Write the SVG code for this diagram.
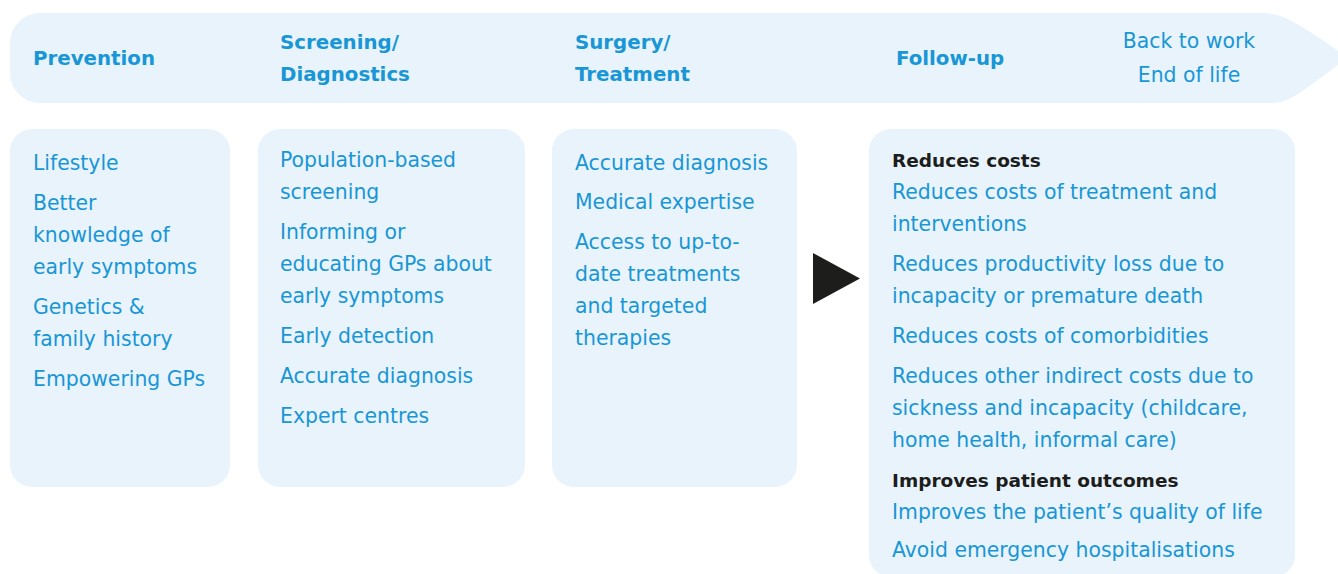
<svg xmlns="http://www.w3.org/2000/svg" width="1338" height="574" viewBox="0 0 1338 574">
<style>
.bg{fill:#e8f3fc}
.h{font-family:"DejaVu Sans",sans-serif;font-weight:bold;font-size:19.8px;fill:#1896d6}
.t{font-family:"DejaVu Sans",sans-serif;font-size:20.4px;fill:#1896d6}
.b{font-family:"DejaVu Sans",sans-serif;font-weight:bold;font-size:18.5px;fill:#1d1d1b}
.c{text-anchor:middle}
</style>
<rect width="1338" height="574" fill="#ffffff"/>
<g id="banner">
<path class="bg" d="M40,13 H1262 C1285,13 1305,28 1348,58 C1305,88 1292,103 1272,103 H40 A30,30 0 0 1 10,73 V43 A30,30 0 0 1 40,13 Z"/>
<text class="h" x="33" y="65">Prevention</text>
<text class="h" x="280" y="49">Screening/</text>
<text class="h" x="280" y="81">Diagnostics</text>
<text class="h" x="575" y="49">Surgery/</text>
<text class="h" x="575" y="81">Treatment</text>
<text class="h" x="896" y="65">Follow-up</text>
<text class="t c" x="1189" y="48">Back to work</text>
<text class="t c" x="1189" y="82">End of life</text>
</g>
<g id="prevention">
<rect class="bg" x="10" y="129" width="220" height="358" rx="22"/>
<text class="t" x="33" y="170">Lifestyle</text>
<text class="t" x="33" y="210">Better</text>
<text class="t" x="33" y="242">knowledge of</text>
<text class="t" x="33" y="274">early symptoms</text>
<text class="t" x="33" y="314">Genetics &amp;</text>
<text class="t" x="33" y="346">family history</text>
<text class="t" x="33" y="386">Empowering GPs</text>
</g>
<g id="screening">
<rect class="bg" x="258" y="129" width="267" height="358" rx="22"/>
<text class="t" x="280" y="167">Population-based</text>
<text class="t" x="280" y="199">screening</text>
<text class="t" x="280" y="239">Informing or</text>
<text class="t" x="280" y="271">educating GPs about</text>
<text class="t" x="280" y="303">early symptoms</text>
<text class="t" x="280" y="343">Early detection</text>
<text class="t" x="280" y="383">Accurate diagnosis</text>
<text class="t" x="280" y="423">Expert centres</text>
</g>
<g id="surgery">
<rect class="bg" x="552" y="129" width="245" height="358" rx="22"/>
<text class="t" x="575" y="170">Accurate diagnosis</text>
<text class="t" x="575" y="209">Medical expertise</text>
<text class="t" x="575" y="249">Access to up-to-</text>
<text class="t" x="575" y="281">date treatments</text>
<text class="t" x="575" y="313">and targeted</text>
<text class="t" x="575" y="345">therapies</text>
</g>
<g id="connectors">
<polygon points="813,253 860,278.5 813,304" fill="#1d1d1b"/>
</g>
<g id="followup">
<rect class="bg" x="869" y="129" width="426" height="448" rx="22"/>
<text class="b" x="892" y="167">Reduces costs</text>
<text class="t" x="892" y="199">Reduces costs of treatment and</text>
<text class="t" x="892" y="231">interventions</text>
<text class="t" x="892" y="271">Reduces productivity loss due to</text>
<text class="t" x="892" y="303">incapacity or premature death</text>
<text class="t" x="892" y="343">Reduces costs of comorbidities</text>
<text class="t" x="892" y="383">Reduces other indirect costs due to</text>
<text class="t" x="892" y="415">sickness and incapacity (childcare,</text>
<text class="t" x="892" y="447">home health, informal care)</text>
<text class="b" x="892" y="487">Improves patient outcomes</text>
<text class="t" x="892" y="519">Improves the patient’s quality of life</text>
<text class="t" x="892" y="557">Avoid emergency hospitalisations</text>
</g>
</svg>
